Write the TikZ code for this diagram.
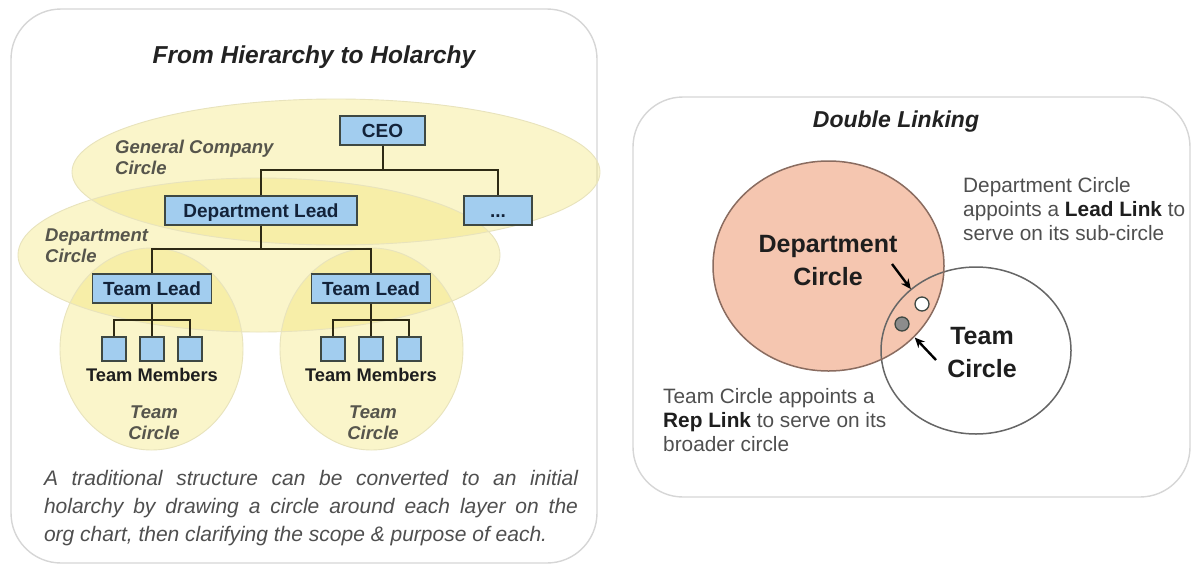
\documentclass[tikz,border=0pt]{standalone}
\usepackage{fontspec}
\setmainfont{Liberation Sans}
\usetikzlibrary{arrows.meta}
\definecolor{panelgray}{HTML}{D6D6D6}
\definecolor{boxblue}{HTML}{A2CDEF}
\definecolor{boxline}{HTML}{3E4843}
\definecolor{boxtext}{HTML}{13233A}
\definecolor{linkdark}{HTML}{2E2A14}
\definecolor{holonyellow}{HTML}{F2E46E}
\definecolor{holonrim}{HTML}{E8E3BC}
\definecolor{labelgray}{HTML}{56554C}
\definecolor{titledark}{HTML}{222222}
\definecolor{deptpink}{HTML}{F5C6B0}
\definecolor{deptrim}{HTML}{8A6C60}
\definecolor{teamrim}{HTML}{666666}
\definecolor{repgray}{HTML}{8C8C8C}
\definecolor{notegray}{HTML}{4F4F4F}
\definecolor{notedark}{HTML}{1E1E1E}
\newcommand\keyterm[1]{{\color{notedark}\bfseries #1}}
\tikzset{
  panel/.style={rounded corners=50pt, draw=panelgray, fill=white, line width=1.4pt},
  heading/.style={font=\fontsize{24.5}{28}\selectfont\bfseries\itshape, text=titledark, inner sep=0pt},
  orgbox/.style={draw=boxline, fill=boxblue, line width=1.3pt, minimum height=29pt, inner sep=0pt,
    text height=13.6pt, text depth=0pt, font=\fontsize{19}{22}\selectfont\bfseries, text=boxtext},
  member/.style={orgbox, minimum width=24pt, minimum height=24pt},
  link/.style={draw=linkdark, line width=2pt},
  holon/.style={fill=holonyellow, fill opacity=.36},
  holonrim/.style={draw=holonrim, line width=.9pt},
  circlabel/.style={font=\fontsize{18.5}{21}\selectfont\bfseries\itshape, text=labelgray, align=left, inner sep=0pt},
  tag/.style={font=\fontsize{18.3}{21}\selectfont\bfseries, text=notedark, inner sep=0pt},
  caption/.style={font=\fontsize{21}{28}\selectfont\itshape, text=notegray, text width=534pt, align=justify, inner sep=0pt},
  bigword/.style={font=\fontsize{25}{33}\selectfont\bfseries, text=notedark, align=center, inner sep=0pt},
  note/.style={font=\fontsize{20.8}{24}\selectfont, text=notegray, align=left, inner sep=0pt},
  linkdot/.style={circle, draw=boxline, line width=1.3pt, minimum size=14pt, inner sep=0pt},
  arr/.style={-{Stealth[length=10pt,width=9pt]}, draw=black, line width=2.4pt, shorten >=11pt}
}
\begin{document}
\begin{tikzpicture}[x=1pt,y=-1pt]
  \useasboundingbox (0,0) rectangle (1193,565);
  \draw[panel] (11,9) rectangle (597,563);
  \draw[panel] (633,97) rectangle (1190,497);

  % circles drawn round each layer
  \fill[holon] (336,172) ellipse [x radius=264pt, y radius=73pt];
  \fill[holon] (259,255) ellipse [x radius=241pt, y radius=77pt];
  \fill[holon] (151.5,349) ellipse [x radius=91.5pt, y radius=101pt];
  \fill[holon] (371.5,349) ellipse [x radius=91.5pt, y radius=101pt];
  \draw[holonrim] (336,172) ellipse [x radius=264pt, y radius=73pt];
  \draw[holonrim] (259,255) ellipse [x radius=241pt, y radius=77pt];
  \draw[holonrim] (151.5,349) ellipse [x radius=91.5pt, y radius=101pt];
  \draw[holonrim] (371.5,349) ellipse [x radius=91.5pt, y radius=101pt];

  \node[heading] (lefttitle) at (314,57) {From Hierarchy to Holarchy};
  \node[circlabel, anchor=west] (gclabel) at (115,157) {General Company\\Circle};
  \node[circlabel, anchor=west] (dclabel) at (45,246) {Department\\Circle};

  \node[orgbox, minimum width=85pt] (ceo) at (382.5,130.5) {CEO};
  \node[orgbox, minimum width=192pt] (dlead) at (261,210.5) {Department Lead};
  \node[orgbox, minimum width=68pt] (more) at (498,210.5) {...};
  \coordinate (bus1) at (382.5,170);
  \draw[link] (ceo) -- (bus1);
  \draw[link] (dlead) |- (bus1) -| (more);

  \node[orgbox, minimum width=119pt] (tl1) at (152,288.5) {Team Lead};
  \node[orgbox, minimum width=119pt] (tl2) at (371,288.5) {Team Lead};
  \coordinate (bus2) at (261,249);
  \draw[link] (dlead) -- (bus2);
  \draw[link] (tl1) |- (bus2) -| (tl2);

  \foreach \t/\cx in {1/152,2/371} {
    \foreach \k/\dx in {1/-38,2/0,3/38}
      \node[member] (m\t\k) at (\cx+\dx,349) {};
    \coordinate (tb\t) at (\cx,320);
    \draw[link] (tl\t) -- (tb\t) -- (m\t2);
    \draw[link] (m\t1) |- (tb\t) -| (m\t3);
    \node[tag] (tm\t) at (\cx,375) {Team Members};
    \node[circlabel, align=center] (tc\t) at (\cx+2,423) {Team\\Circle};
  }

  \node[caption] (summary) at (311,508) {A traditional structure can be converted to an initial\break
    holarchy by drawing a circle around each layer on the\break
    org chart, then clarifying the scope \& purpose of each.};

  % double linking
  \node[heading, font=\fontsize{23}{26}\selectfont\bfseries\itshape] (righttitle) at (896,122) {Double Linking};
  \fill[deptpink] (828.5,266) ellipse [x radius=115.5pt, y radius=105pt];
  \draw[teamrim, line width=1.5pt] (976,350.5) ellipse [x radius=95pt, y radius=83.5pt];
  \draw[deptrim, line width=1.5pt] (828.5,266) ellipse [x radius=115.5pt, y radius=105pt];
  \node[bigword] (deptname) at (828,260.5) {Department\\Circle};
  \node[bigword] (teamname) at (982,352.5) {Team\\Circle};

  \node[linkdot, fill=white] (leadlink) at (922,304) {};
  \node[linkdot, fill=repgray] (replink) at (902,324) {};
  \coordinate (leadtail) at (892,264);
  \coordinate (reptail) at (936,360);
  \draw[arr] (leadtail) -- (leadlink);
  \draw[arr] (reptail) -- (replink);

  \node[note, anchor=west] (leadnote) at (963,209) {Department Circle\\appoints a \keyterm{Lead Link} to\\serve on its sub-circle};
  \node[note, anchor=west] (repnote) at (663,420) {Team Circle appoints a\\\keyterm{Rep Link} to serve on its\\broader circle};
\end{tikzpicture}
\end{document}
